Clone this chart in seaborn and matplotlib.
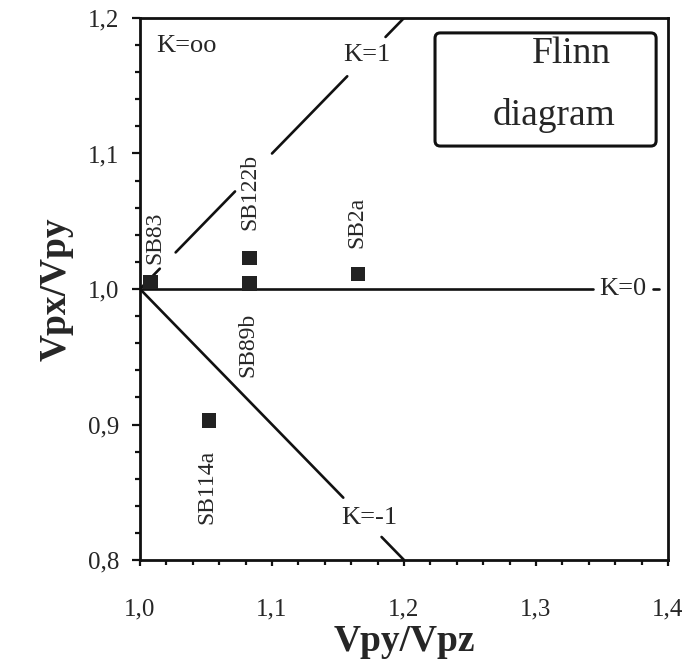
import matplotlib
matplotlib.use("Agg")
import matplotlib.pyplot as plt
import pandas as pd
import seaborn as sns
from matplotlib.patches import FancyBboxPatch
from matplotlib.ticker import FuncFormatter, MultipleLocator

# sample measurements
samples = ["SB83", "SB89b", "SB122b", "SB2a", "SB114a"]
vpy_vpz = [1.008, 1.083, 1.083, 1.165, 1.052]
vpx_vpy = [1.005, 1.004, 1.023, 1.011, 0.903]

# K reference lines: (a-1) = K (b-1), drawn as pieces broken around labels
k_values = [1, 0, -1]
k_pieces = {
    1: [(1.0, 1.015), (1.027, 1.072), (1.100, 1.157), (1.186, 1.200)],
    0: [(1.0, 1.343), (1.389, 1.393)],
    -1: [(1.0, 1.154), (1.183, 1.200)],
}

x_ticks = [1.0, 1.1, 1.2, 1.3, 1.4]
y_ticks = [0.8, 0.9, 1.0, 1.1, 1.2]

label_pos = {
    "SB83": (1.011, 1.038),
    "SB89b": (1.082, 0.959),
    "SB122b": (1.083, 1.072),
    "SB2a": (1.164, 1.049),
    "SB114a": (1.051, 0.854),
}

sns.set_theme(style="ticks")
plt.rcParams["font.family"] = ["Liberation Serif", "DejaVu Serif"]

fig = plt.figure(figsize=(6.89, 6.65), dpi=100)
ax = fig.add_axes([140 / 689, 105 / 665, 528 / 689, 542 / 665])

rows = []
for k in k_values:
    for i, (x0, x1) in enumerate(k_pieces[k]):
        for x in (x0, x1):
            rows.append({"seg": f"{k}_{i}", "x": x, "y": 1 + k * (x - 1)})
lines = pd.DataFrame(rows)
sns.lineplot(data=lines, x="x", y="y", units="seg", estimator=None, sort=False,
             color="#111111", linewidth=1.9, ax=ax, legend=False)

pts = pd.DataFrame({"sample": samples, "b": vpy_vpz, "a": vpx_vpy})
sns.scatterplot(data=pts, x="b", y="a", marker="s", s=105, color="#222222",
                edgecolor="none", ax=ax, zorder=5, legend=False)

for name in samples:
    lx, ly = label_pos[name]
    ax.text(lx, ly, name, rotation=90, ha="center", va="center", fontsize=17)

ax.text(1.035, 1.179, "K=oo", ha="center", va="center", fontsize=19)
ax.text(1.172, 1.173, "K=1", ha="center", va="center", fontsize=19)
ax.text(1.348, 1.0, "K=0", ha="left", va="center", fontsize=19)
ax.text(1.174, 0.831, "K=-1", ha="center", va="center", fontsize=19)

box = FancyBboxPatch((1.2235, 1.1055), 0.1675, 0.0835,
                     boxstyle="round,pad=0,rounding_size=0.004",
                     fill=False, edgecolor="#111111", linewidth=2.2,
                     mutation_aspect=1)
ax.add_patch(box)
ax.text(1.3265, 1.1735, "Flinn", ha="center", va="center", fontsize=27)
ax.text(1.3136, 1.1277, "diagram", ha="center", va="center", fontsize=27)

ax.set_xlim(1.0, 1.4)
ax.set_ylim(0.8, 1.2)
ax.set_xticks(x_ticks)
ax.set_yticks(y_ticks)
ax.xaxis.set_minor_locator(MultipleLocator(0.02))
ax.yaxis.set_minor_locator(MultipleLocator(0.02))
comma = FuncFormatter(lambda v, _: f"{v:.1f}".replace(".", ","))
ax.xaxis.set_major_formatter(comma)
ax.yaxis.set_major_formatter(comma)
ax.tick_params(axis="x", which="major", direction="out", length=4, width=1.6,
               pad=24, labelsize=18, color="#111111")
ax.tick_params(axis="y", which="major", direction="out", length=6, width=1.6,
               pad=9, labelsize=18, color="#111111")
ax.tick_params(which="minor", direction="out", length=3.5, width=1.6, color="#111111")

for sp in ax.spines.values():
    sp.set_linewidth(2.0)
    sp.set_color("#111111")

ax.set_xlabel("Vpy/Vpz", fontsize=27, fontweight="bold", labelpad=2)
ax.set_ylabel("Vpx/Vpy", fontsize=27, fontweight="bold", labelpad=10)

fig.savefig("out.png", dpi=100)
